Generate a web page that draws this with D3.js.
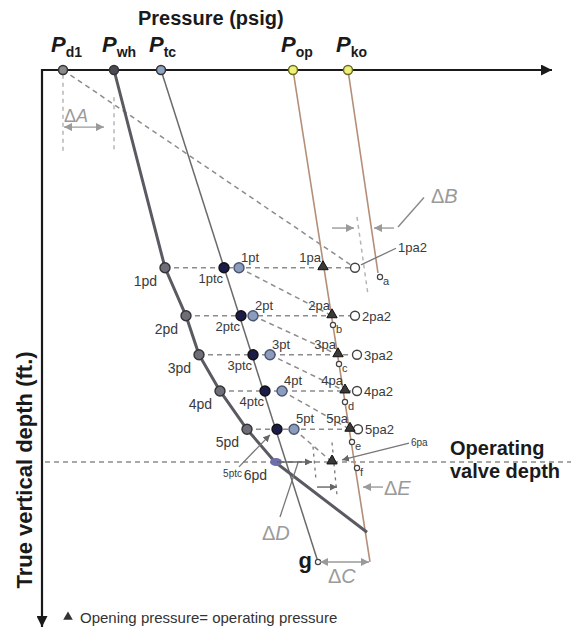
<!DOCTYPE html>
<html>
<head>
<meta charset="utf-8">
<script src="https://cdn.jsdelivr.net/npm/d3@7"></script>
<style>
  body { margin: 0; background: #fff; }
  svg { font-family: "Liberation Sans", Arial, sans-serif; }
</style>
</head>
<body>
<div class="layout"></div>
<script>
// chart values (pressure in psig, depth in ft)
const levels = ["1", "2", "3", "4", "5", "6"];
const levelDepth = [2840, 3530, 4090, 4610, 5160, 5630];
const pdPress = [246, 288, 314, 356, 410, 466];
const ptcPress = [364, 398, 422, 446, 470];
const ptPress = [394, 422, 456, 480, 504];
const paPress = [562, 580, 592, 606, 616, 580];
const pa2Press = [626, 626, 630, 630, 632];

const surfaceNames = ["d1", "wh", "tc", "op", "ko"];
const surfacePress = [42, 144, 238, 502, 612];
const surfaceFill = ["#8a8a8a", "#4a4a55", "#8ea4c2", "#eef07a", "#eef07a"];

const checkNames = ["a", "b", "c", "d", "e", "f"];
const checkPress = [676, 582, 594, 606, 620, 630];
const checkDepth = [2973, 3662, 4223, 4768, 5343, 5716];

const pwhEnd = [650, 6640];
const gPoint = [552, 7066];
const popEnd = [656, 7066];

const width = 571, height = 630;

const x = d3.scaleLinear().domain([0, 1020]).range([42, 552]);
const y = d3.scaleLinear().domain([0, 8000]).range([70, 627]);

const svg = d3.select("div.layout")
  .append("svg")
  .attr("width", width)
  .attr("height", height);

// arrow heads
const defs = svg.append("defs");
function marker(id, color, size) {
  defs.append("marker")
    .attr("id", id)
    .attr("markerUnits", "userSpaceOnUse")
    .attr("viewBox", "0 0 10 10")
    .attr("refX", 10).attr("refY", 5)
    .attr("markerWidth", size).attr("markerHeight", size)
    .attr("orient", "auto-start-reverse")
    .append("path")
    .attr("d", "M0,0 L10,5 L0,10 z")
    .attr("fill", color);
}
marker("axisArrow", "#1a1a1a", 11);
marker("grayArrow", "#9a9a9a", 8);
marker("darkArrow", "#666", 7);

function seg(g, p0, p1) {
  return g.append("line")
    .attr("x1", x(p0[0])).attr("y1", y(p0[1]))
    .attr("x2", x(p1[0])).attr("y2", y(p1[1]));
}

// dashed construction lines
const dash = svg.append("g")
  .attr("stroke", "#8c8c8c")
  .attr("stroke-width", 1.5)
  .attr("stroke-dasharray", "5,4")
  .attr("fill", "none");

seg(dash, [surfacePress[0], 0], [pa2Press[0], levelDepth[0]]);

pa2Press.forEach(function (p, i) {
  seg(dash, [pdPress[i], levelDepth[i]], [p, levelDepth[i]]);
});

ptPress.forEach(function (p, i) {
  seg(dash, [p, levelDepth[i]], [paPress[i + 1], levelDepth[i + 1]]);
});

// operating valve depth line
dash.append("line")
  .attr("x1", 45).attr("x2", width)
  .attr("y1", y(levelDepth[5])).attr("y2", y(levelDepth[5]));

// short dashed guides near delta marks
const guide = svg.append("g")
  .attr("stroke", "#b5b5b5")
  .attr("stroke-width", 1.5)
  .attr("stroke-dasharray", "4,4");
seg(guide, [surfacePress[0], 70], [surfacePress[0], 1180]);
seg(guide, [surfacePress[1], 390], [surfacePress[1], 1180]);
seg(guide, [630, 2110], [652, 3230]);

const guideDark = svg.append("g")
  .attr("stroke", "#777")
  .attr("stroke-width", 1.3)
  .attr("stroke-dasharray", "3,4");
seg(guideDark, [542, 5410], [548, 5890]);
seg(guideDark, [580, 5350], [590, 6110]);

// gradient lines
svg.append("path")
  .attr("fill", "none")
  .attr("stroke", "#b48e78")
  .attr("stroke-width", 1.6)
  .attr("d", d3.line()([[x(surfacePress[3]), y(0)], [x(popEnd[0]), y(popEnd[1])]]));

svg.append("path")
  .attr("fill", "none")
  .attr("stroke", "#b48e78")
  .attr("stroke-width", 1.6)
  .attr("d", d3.line()([[x(surfacePress[4]), y(0)], [x(checkPress[0]) - 2, y(checkDepth[0]) - 4]]));

svg.append("path")
  .attr("fill", "none")
  .attr("stroke", "#6a6a6a")
  .attr("stroke-width", 1.5)
  .attr("d", d3.line()([[x(surfacePress[2]), y(0)], [x(gPoint[0]), y(gPoint[1])]]));

const pwhPts = [[surfacePress[1], 0]]
  .concat(pdPress.map(function (p, i) { return [p, levelDepth[i]]; }))
  .concat([pwhEnd]);

svg.append("path")
  .attr("fill", "none")
  .attr("stroke", "#5a5a62")
  .attr("stroke-width", 3)
  .attr("stroke-linejoin", "round")
  .attr("d", d3.line()
    .x(function (d) { return x(d[0]); })
    .y(function (d) { return y(d[1]); })(pwhPts));

// axes
svg.append("line")
  .attr("x1", x(0)).attr("y1", y(0))
  .attr("x2", x(1020)).attr("y2", y(0))
  .attr("stroke", "#1a1a1a").attr("stroke-width", 2.2)
  .attr("marker-end", "url(#axisArrow)");

svg.append("line")
  .attr("x1", x(0)).attr("y1", y(0) - 1)
  .attr("x2", x(0)).attr("y2", y(8000))
  .attr("stroke", "#1a1a1a").attr("stroke-width", 2.2)
  .attr("marker-end", "url(#axisArrow)");

svg.append("text")
  .attr("x", 138).attr("y", 25)
  .attr("font-size", 20).attr("font-weight", "bold").attr("fill", "#1a1a1a")
  .text("Pressure (psig)");

svg.append("text")
  .attr("transform", "translate(32," + 470 + ") rotate(-90)")
  .attr("text-anchor", "middle")
  .attr("font-size", 22).attr("font-weight", "bold").attr("fill", "#1a1a1a")
  .text("True vertical depth (ft.)");

// surface points
surfaceNames.forEach(function (n, i) {
  const t = svg.append("text")
    .attr("x", x(surfacePress[i]) - 12).attr("y", 52)
    .attr("font-weight", "bold").attr("fill", "#1a1a1a");
  t.append("tspan").attr("font-size", 22).attr("font-style", "italic").text("P");
  t.append("tspan").attr("font-size", 14).attr("dy", 5).text(n);
});

svg.selectAll("circle.surface")
  .data(surfacePress)
  .enter()
  .append("circle")
  .attr("class", "surface")
  .attr("cx", function (d) { return x(d); })
  .attr("cy", y(0))
  .attr("r", 4.5)
  .attr("fill", function (d, i) { return surfaceFill[i]; })
  .attr("stroke", function (d, i) { return i > 2 ? "#6a6a20" : "#333"; })
  .attr("stroke-width", 1.5);

// level points
function dots(values, cls, fill, stroke, r) {
  svg.selectAll("circle." + cls)
    .data(values)
    .enter()
    .append("circle")
    .attr("class", cls)
    .attr("cx", function (d) { return x(d); })
    .attr("cy", function (d, i) { return y(levelDepth[i]); })
    .attr("r", r)
    .attr("fill", fill)
    .attr("stroke", stroke)
    .attr("stroke-width", 1.4);
}
dots(pdPress.slice(0, 5), "pd", "#6e6e78", "#333", 5);
dots(ptcPress, "ptc", "#1c1c48", "#111", 5);
dots(ptPress, "pt", "#8c9cbc", "#4a5570", 5);
dots(pa2Press, "pa2", "#fff", "#444", 4.5);

svg.append("ellipse")
  .attr("cx", x(pdPress[5]) + 1).attr("cy", y(levelDepth[5]))
  .attr("rx", 6).attr("ry", 4)
  .attr("fill", "#6e6eaa");

svg.selectAll("path.pa")
  .data(paPress)
  .enter()
  .append("path")
  .attr("class", "pa")
  .attr("transform", function (d, i) {
    return "translate(" + x(d) + "," + (y(levelDepth[i]) - 1) + ")";
  })
  .attr("d", d3.symbol(d3.symbolTriangle).size(46))
  .attr("fill", "#3a3a3a")
  .attr("stroke", "#111")
  .attr("stroke-width", 1);

svg.selectAll("circle.check")
  .data(checkPress)
  .enter()
  .append("circle")
  .attr("class", "check")
  .attr("cx", function (d) { return x(d); })
  .attr("cy", function (d, i) { return y(checkDepth[i]); })
  .attr("r", 2.6)
  .attr("fill", "#fff")
  .attr("stroke", "#444")
  .attr("stroke-width", 1.2);

svg.append("circle")
  .attr("cx", x(gPoint[0])).attr("cy", y(gPoint[1]))
  .attr("r", 2.6)
  .attr("fill", "#fff").attr("stroke", "#444").attr("stroke-width", 1.2);

// level labels
const lab = svg.append("g").attr("fill", "#3a3a3a");

levels.forEach(function (l, i) {
  const yy = y(levelDepth[i]);
  lab.append("text")
    .attr("x", x(pdPress[i]) - 8).attr("y", yy + 18)
    .attr("text-anchor", "end").attr("font-size", 14)
    .text(l + "pd");
  if (i < 5) {
    lab.append("text")
      .attr("x", x(ptPress[i]) + 2).attr("y", yy - 6)
      .attr("font-size", 13).text(l + "pt");
    lab.append("text")
      .attr("x", x(pa2Press[i]) + 7).attr("y", yy + 5)
      .attr("font-size", 13).text(i === 0 ? "" : l + "pa2");
    lab.append("text")
      .attr("x", x(paPress[i]) - 2).attr("y", yy - 6)
      .attr("text-anchor", "end").attr("font-size", 13).text(l + "pa");
  }
  if (i < 4) {
    lab.append("text")
      .attr("x", x(ptcPress[i]) - 1).attr("y", yy + 15)
      .attr("text-anchor", "end").attr("font-size", 13).text(l + "ptc");
  }
});

checkNames.forEach(function (n, i) {
  lab.append("text")
    .attr("x", x(checkPress[i]) + 3).attr("y", y(checkDepth[i]) + 8)
    .attr("font-size", 11).text(n);
});

// leader labels
const leader = svg.append("g").attr("stroke", "#777").attr("stroke-width", 1.3);

seg(leader, [708, 2560], [638, 2800]);
lab.append("text").attr("x", x(712)).attr("y", y(2614))
  .attr("font-size", 13).text("1pa2");

seg(leader, [734, 5360], [600, 5600]).attr("marker-end", "url(#darkArrow)");
lab.append("text").attr("x", x(738)).attr("y", y(5400))
  .attr("font-size", 10).text("6pa");

seg(leader, [394, 5700], [456, 5240]).attr("marker-end", "url(#darkArrow)");
lab.append("text").attr("x", x(400)).attr("y", y(5850))
  .attr("text-anchor", "end").attr("font-size", 10).text("5ptc");

seg(leader, [476, 6420], [512, 5640]);

// delta annotations
const delta = svg.append("g").attr("stroke", "#9a9a9a").attr("stroke-width", 1.4);
const dText = svg.append("g")
  .attr("fill", "#9a9a9a").attr("font-size", 20);

function dLabel(px, dp, letter, size) {
  const t = dText.append("text").attr("x", x(px)).attr("y", y(dp))
    .attr("font-size", size || 20);
  t.append("tspan").text("\u0394");
  t.append("tspan").attr("font-style", "italic").text(letter);
}

seg(delta, [44, 820], [124, 820])
  .attr("marker-start", "url(#grayArrow)").attr("marker-end", "url(#grayArrow)");
dLabel(44, 740, "A", 18);

seg(delta, [580, 2270], [624, 2270]).attr("marker-end", "url(#grayArrow)");
seg(delta, [704, 2270], [664, 2270]).attr("marker-end", "url(#grayArrow)");
seg(delta, [712, 2255], [764, 1830]).attr("stroke", "#888");
dLabel(778, 1910, "B");

seg(delta, [470, 5630], [540, 5630]).attr("stroke", "#666").attr("marker-end", "url(#darkArrow)");
seg(delta, [550, 5990], [590, 5990]).attr("stroke", "#666").attr("marker-end", "url(#darkArrow)");
seg(delta, [682, 5990], [642, 5990]).attr("marker-end", "url(#grayArrow)");
dLabel(684, 6110, "E");

dLabel(440, 6750, "D");

seg(delta, [556, 7066], [654, 7066])
  .attr("marker-start", "url(#grayArrow)").attr("marker-end", "url(#grayArrow)");
dLabel(572, 7370, "C");

svg.append("text")
  .attr("x", x(540)).attr("y", y(7150))
  .attr("text-anchor", "end")
  .attr("font-size", 22).attr("font-weight", "bold").attr("fill", "#1a1a1a")
  .text("g");

// operating valve depth
const op = svg.append("text")
  .attr("font-size", 20).attr("font-weight", "bold").attr("fill", "#1a1a1a");
op.append("tspan").attr("x", 450).attr("y", 455).text("Operating");
op.append("tspan").attr("x", 450).attr("y", 478).text("valve depth");

// legend
svg.append("path")
  .attr("transform", "translate(68,617)")
  .attr("d", d3.symbol(d3.symbolTriangle).size(40))
  .attr("fill", "#333");
svg.append("text")
  .attr("x", 80).attr("y", 623)
  .attr("font-size", 15).attr("fill", "#333")
  .text("Opening pressure= operating pressure");
</script>
</body>
</html>
